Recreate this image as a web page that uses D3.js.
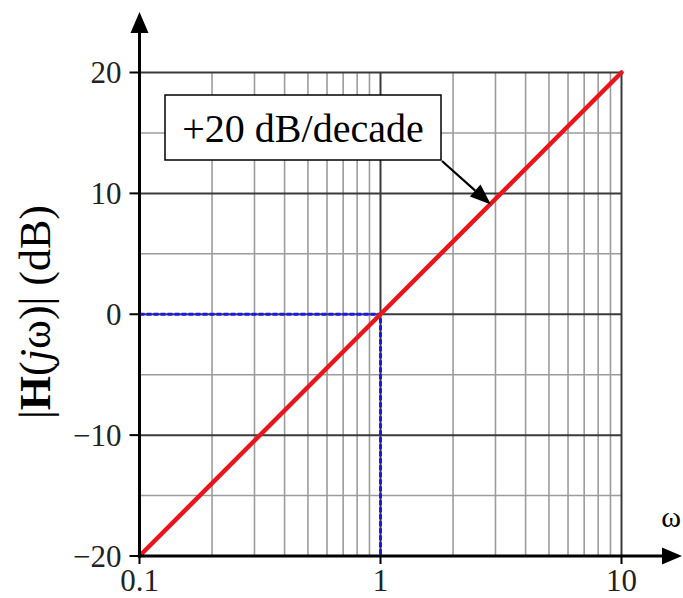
<!DOCTYPE html>
<html><head><meta charset="utf-8">
<script src="https://cdn.jsdelivr.net/npm/d3@7"></script>
<style>body{margin:0;background:#fff}svg{display:block}</style>
</head><body>
<script>
const omega = [0.1, 1, 10];
const magnitudeDb = [-20, 0, 20];
const xTicks = [0.1, 1, 10];
const xTickLabels = ["0.1", "1", "10"];
const yTicks = [-20, -10, 0, 10, 20];
const yTickLabels = ["\u221220", "\u221210", "0", "10", "20"];
const yMinor = [-15, -5, 5, 15];
const cornerW = 1, cornerDb = 0;
const annotation = "+20 dB/decade";

const W = 683, H = 598;
const x = d3.scaleLog().domain([0.1, 10]).range([139.5, 621.5]);
const y = d3.scaleLinear().domain([-20, 20]).range([556, 72.5]);
const svg = d3.select("body").append("svg").attr("width", W).attr("height", H);
const font = "'Liberation Serif','Times New Roman',serif";

// minor vertical grid
const minorX = [];
[0.1, 1].forEach(d => { for (let k = 2; k <= 9; k++) minorX.push(d * k); });
svg.append("g").selectAll("line").data(minorX).join("line")
  .attr("x1", d => x(d)).attr("x2", d => x(d)).attr("y1", y(20)).attr("y2", y(-20))
  .attr("stroke", "#9c9c9c").attr("stroke-width", 1.6);
svg.append("g").selectAll("line").data(yMinor).join("line")
  .attr("x1", x(0.1)).attr("x2", x(10)).attr("y1", d => y(d)).attr("y2", d => y(d))
  .attr("stroke", "#9c9c9c").attr("stroke-width", 1.6);
// major grid
svg.append("g").selectAll("line").data([1, 10]).join("line")
  .attr("x1", d => x(d)).attr("x2", d => x(d)).attr("y1", y(20)).attr("y2", y(-20))
  .attr("stroke", "#3a3a3a").attr("stroke-width", 2);
svg.append("g").selectAll("line").data([-10, 0, 10, 20]).join("line")
  .attr("x1", x(0.1)).attr("x2", x(10)).attr("y1", d => y(d)).attr("y2", d => y(d))
  .attr("stroke", "#3a3a3a").attr("stroke-width", 2);

// blue dashed guides
svg.append("path")
  .attr("d", d3.line()([[x(0.1), y(cornerDb)], [x(cornerW), y(cornerDb)], [x(cornerW), y(-20)]]))
  .attr("fill", "none").attr("stroke", "#1a1ae6").attr("stroke-width", 3).attr("stroke-dasharray", "5,2");

// red line
svg.append("path")
  .attr("d", d3.line().x((d, i) => x(omega[i])).y(d => y(d))(magnitudeDb))
  .attr("fill", "none").attr("stroke", "#e8161c").attr("stroke-width", 4.5).attr("stroke-linecap", "round");

// axes
const ax = svg.append("g");
ax.append("line").attr("x1", x(0.1)).attr("x2", x(0.1)).attr("y1", y(-20) + 1.5).attr("y2", 30)
  .attr("stroke", "#000").attr("stroke-width", 3);
ax.append("path").attr("d", `M${x(0.1)},12 L${x(0.1) - 9},33 L${x(0.1) + 9},33 Z`).attr("fill", "#000");
ax.append("line").attr("x1", x(0.1) - 1.5).attr("x2", 665).attr("y1", y(-20)).attr("y2", y(-20))
  .attr("stroke", "#000").attr("stroke-width", 3);
ax.append("path").attr("d", `M682,${y(-20)} L662,${y(-20) - 8.5} L662,${y(-20) + 8.5} Z`).attr("fill", "#000");

// ticks
svg.append("g").selectAll("line").data(yTicks).join("line")
  .attr("x1", x(0.1) - 10).attr("x2", x(0.1)).attr("y1", d => y(d)).attr("y2", d => y(d))
  .attr("stroke", "#000").attr("stroke-width", 2);
svg.append("g").selectAll("line").data(xTicks).join("line")
  .attr("x1", d => x(d)).attr("x2", d => x(d)).attr("y1", y(-20)).attr("y2", y(-20) + 8)
  .attr("stroke", "#000").attr("stroke-width", 2);

svg.append("g").selectAll("text").data(yTicks).join("text")
  .attr("x", x(0.1) - 18).attr("y", d => y(d) + 10.5)
  .attr("text-anchor", "end").attr("font-family", font).attr("font-size", 31).attr("fill", "#222")
  .text((d, i) => yTickLabels[i]);
svg.append("g").selectAll("text").data(xTicks).join("text")
  .attr("x", d => x(d)).attr("y", 591)
  .attr("text-anchor", "middle").attr("font-family", font).attr("font-size", 31).attr("fill", "#222")
  .text((d, i) => xTickLabels[i]);

// omega label
svg.append("text").attr("x", 671).attr("y", 527).attr("text-anchor", "middle")
  .attr("font-family", font).attr("font-size", 30).text("\u03c9");

// y label
const yl = svg.append("text").attr("transform", "translate(50,312) rotate(-90)")
  .attr("text-anchor", "middle").attr("font-family", font).attr("font-size", 44);
yl.append("tspan").text("|");
yl.append("tspan").attr("font-weight", "bold").text("H");
yl.append("tspan").text("(");
yl.append("tspan").attr("font-style", "italic").text("j");
yl.append("tspan").text("\u03c9)| (dB)");

// annotation box
svg.append("rect").attr("x", 165).attr("y", 95).attr("width", 276).attr("height", 65)
  .attr("fill", "#fff").attr("stroke", "#000").attr("stroke-width", 1.5);
svg.append("text").attr("x", 303).attr("y", 142).attr("text-anchor", "middle")
  .attr("font-family", font).attr("font-size", 40).text(annotation);

// annotation arrow
const tipW = 2.79, tipDb = 20 * Math.log10(tipW);
const tx = x(tipW) + 3, ty = y(tipDb) - 2;
const sx = 442, sy = 161;
const ang = Math.atan2(ty - sy, tx - sx);
const hl = 21, hw = 8;
const bx = tx - hl * Math.cos(ang), by = ty - hl * Math.sin(ang);
svg.append("line").attr("x1", sx).attr("y1", sy).attr("x2", bx).attr("y2", by)
  .attr("stroke", "#000").attr("stroke-width", 2.2);
svg.append("path").attr("d",
  `M${tx},${ty} L${bx + hw * Math.sin(ang)},${by - hw * Math.cos(ang)} L${bx - hw * Math.sin(ang)},${by + hw * Math.cos(ang)} Z`)
  .attr("fill", "#000");
</script>
</body></html>
